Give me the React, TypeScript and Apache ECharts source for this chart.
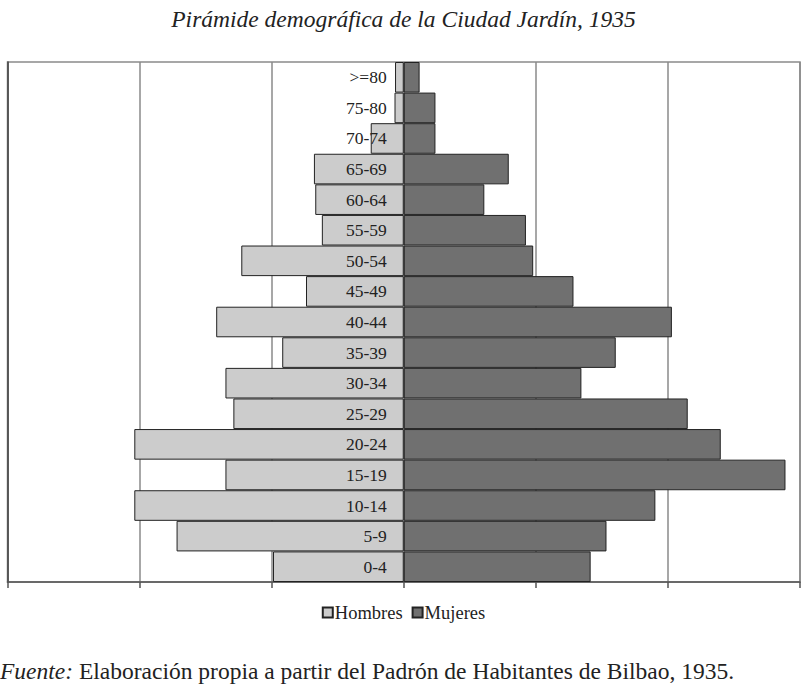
import React, { useEffect, useRef } from "react";
import * as echarts from "echarts";

const ageGroups = ["0-4", "5-9", "10-14", "15-19", "20-24", "25-29", "30-34", "35-39", "40-44", "45-49", "50-54", "55-59", "60-64", "65-69", "70-74", "75-80", ">=80"];
const hombres = [9.9, 17.2, 20.4, 13.5, 20.4, 12.9, 13.5, 9.2, 14.2, 7.4, 12.3, 6.2, 6.7, 6.8, 2.5, 0.7, 0.66];
const mujeres = [14.15, 15.35, 19.05, 28.9, 24.0, 21.5, 13.45, 16.05, 20.3, 12.85, 9.8, 9.25, 6.1, 7.95, 2.4, 2.4, 1.2];
const xTicks = { min: -30, max: 30, interval: 10 };

const SERIF = "'Liberation Serif', 'DejaVu Serif', serif";

export default function App() {
  const ref = useRef<HTMLDivElement>(null);
  useEffect(() => {
    if (!ref.current) return;
    const chart = echarts.init(ref.current, undefined, { renderer: "svg" });
    chart.setOption({
      animation: false,
      backgroundColor: "#ffffff",
      title: [
        {
          text: "Pirámide demográfica de la Ciudad Jardín, 1935",
          left: "center",
          top: 2,
          textStyle: { fontFamily: SERIF, fontStyle: "italic", fontWeight: "normal", fontSize: 23.5, color: "#222" },
        },
        {
          text: "{i|Fuente:} Elaboración propia a partir del Padrón de Habitantes de Bilbao, 1935.",
          left: 0,
          top: 659,
          padding: 0,
          textStyle: {
            fontFamily: SERIF,
            fontWeight: "normal",
            fontSize: 23.5,
            color: "#222",
            rich: {
              i: { fontFamily: SERIF, fontStyle: "italic", fontSize: 23.5, color: "#222" },
            },
          },
        },
      ],
      legend: {
        data: ["Hombres", "Mujeres"],
        top: 598,
        left: "center",
        icon: "rect",
        itemWidth: 10,
        itemHeight: 10,
        itemGap: 9,
        textStyle: { fontFamily: SERIF, fontSize: 18.5, color: "#222", padding: [0, 0, 0, -3] },
      },
      grid: [
        {
          left: 7.5,
          right: 7,
          top: 62,
          bottom: 111,
          show: true,
          borderColor: "#8a8a8a",
          borderWidth: 1.5,
          containLabel: false,
          outerBoundsMode: "none",
        },
        {
          left: 7.5,
          right: 403.25,
          top: 62,
          bottom: 111,
          show: false,
          containLabel: false,
          outerBoundsMode: "none",
        },
      ],
      xAxis: [
        {
          type: "value",
          gridIndex: 0,
          min: xTicks.min,
          max: xTicks.max,
          interval: xTicks.interval,
          axisLabel: { show: false },
          axisLine: { show: true, lineStyle: { color: "#555", width: 1.5 } },
          axisTick: { show: true, length: 6, lineStyle: { color: "#555", width: 1.5 } },
          splitLine: { show: true, lineStyle: { color: "#8a8a8a", width: 1.5 } },
        },
        {
          type: "value",
          gridIndex: 1,
          min: 0,
          max: 1,
          show: false,
        },
      ],
      yAxis: [
        {
          type: "category",
          gridIndex: 0,
          data: ageGroups,
          position: "left",
          axisLine: { show: true, onZero: false, lineStyle: { color: "#444", width: 1.5 } },
          axisTick: { show: false },
          axisLabel: { show: false },
          splitLine: { show: false },
        },
        {
          type: "category",
          gridIndex: 1,
          data: ageGroups,
          position: "right",
          z: 10,
          axisLine: { show: false },
          axisTick: { show: false },
          splitLine: { show: false },
          axisLabel: { show: true, inside: true, margin: 17, fontFamily: SERIF, fontSize: 17.5, color: "#222" },
        },
      ],
      series: [
        {
          name: "Hombres",
          type: "bar",
          stack: "total",
          xAxisIndex: 0,
          yAxisIndex: 0,
          barCategoryGap: "0%",
          data: hombres.map((v) => -v),
          itemStyle: { color: "#cccccc", borderColor: "#222", borderWidth: 1 },
        },
        {
          name: "Mujeres",
          type: "bar",
          stack: "total",
          xAxisIndex: 0,
          yAxisIndex: 0,
          barCategoryGap: "0%",
          data: mujeres,
          itemStyle: { color: "#707070", borderColor: "#222", borderWidth: 1 },
        },
      ],
    });
    return () => chart.dispose();
  }, []);
  return <div ref={ref} style={{ position: "fixed", left: 0, top: 0, width: 807, height: 693 }} />;
}
